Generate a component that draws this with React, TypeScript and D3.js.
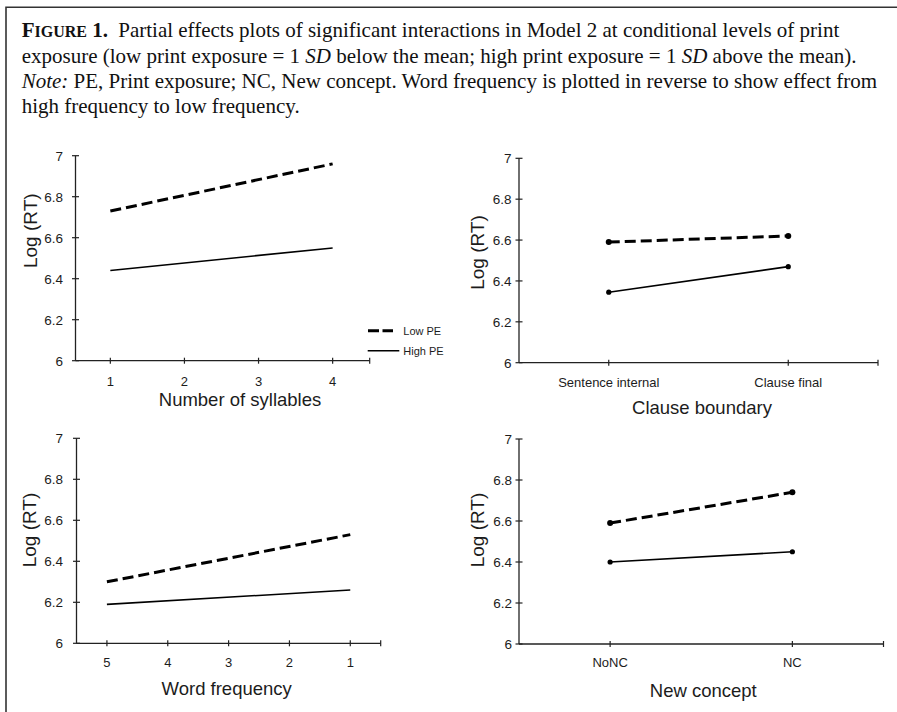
import * as d3 from "d3";
import { useEffect, useRef } from "react";

const W = 897;
const H = 712;

// values
const yTicks = [6, 6.2, 6.4, 6.6, 6.8, 7];

const syllableTicks = [1, 2, 3, 4];
const syllableX = [1, 4];
const syllableLow = [6.73, 6.96];
const syllableHigh = [6.44, 6.55];

const clauseCats = ["Sentence internal", "Clause final"];
const clauseLow = [6.59, 6.62];
const clauseHigh = [6.345, 6.47];

const freqTicks = [5, 4, 3, 2, 1];
const freqX = [5, 1];
const freqLow = [6.3, 6.53];
const freqHigh = [6.19, 6.26];

const conceptCats = ["NoNC", "NC"];
const conceptLow = [6.59, 6.74];
const conceptHigh = [6.4, 6.45];

const legendItems = ["Low PE", "High PE"];

const SANS = "Liberation Sans, Arial, Helvetica, sans-serif";
const SERIF = "Liberation Serif, 'Times New Roman', Times, serif";
const INK = "#1c1c1c";

type Panel = {
    cats?: string[];
    ticks?: number[];
    xs: (number | string)[];
    low: number[];
    high: number[];
    domain?: [number, number];
    x0: number;
    x1: number;
    yBottom: number;
    yTop: number;
    labelRight: number;
    tickBase: number;
    title: string;
    titleX: number;
    titleY: number;
    yTitleX: number;
    yTitleY: number;
    markers: boolean;
    legend?: boolean;
};

const panels: Panel[] = [
    {
        ticks: syllableTicks, xs: syllableX, low: syllableLow, high: syllableHigh,
        domain: [0.53, 4.5], x0: 75.5, x1: 369.7, yBottom: 360.7, yTop: 155.7,
        labelRight: 63, tickBase: 385.5, title: "Number of syllables", titleX: 240, titleY: 406,
        yTitleX: 36.5, yTitleY: 230.7, markers: false, legend: true,
    },
    {
        cats: clauseCats, xs: clauseCats, low: clauseLow, high: clauseHigh,
        x0: 519, x1: 878, yBottom: 362.7, yTop: 158.3,
        labelRight: 511.5, tickBase: 387, title: "Clause boundary", titleX: 702, titleY: 413.5,
        yTitleX: 484, yTitleY: 252.5, markers: true,
    },
    {
        ticks: freqTicks, xs: freqX, low: freqLow, high: freqHigh,
        domain: [5.5, 0.5], x0: 76.5, x1: 380.7, yBottom: 643.3, yTop: 438.3,
        labelRight: 63, tickBase: 667, title: "Word frequency", titleX: 226.7, titleY: 695,
        yTitleX: 36, yTitleY: 530, markers: false,
    },
    {
        cats: conceptCats, xs: conceptCats, low: conceptLow, high: conceptHigh,
        x0: 519, x1: 883.5, yBottom: 644, yTop: 439,
        labelRight: 512, tickBase: 667, title: "New concept", titleX: 703.3, titleY: 696.5,
        yTitleX: 483.5, yTitleY: 530, markers: true,
    },
];

function drawPanel(root: d3.Selection<SVGGElement, unknown, null, undefined>, p: Panel) {
    const g = root.append("g");

    const y = d3.scaleLinear().domain([6, 7]).range([p.yBottom, p.yTop]);
    let x: (v: any) => number;
    let tickVals: any[];
    if (p.cats) {
        const sp = d3.scalePoint<string>().domain(p.cats).range([p.x0, p.x1]).padding(0.5);
        x = v => sp(v) as number;
        tickVals = p.cats;
    } else {
        const sl = d3.scaleLinear().domain(p.domain!).range([p.x0, p.x1]);
        x = v => sl(v);
        tickVals = p.ticks!;
    }

    // axes
    g.append("line")
        .attr("x1", p.x0).attr("x2", p.x0)
        .attr("y1", y(6)).attr("y2", y(7))
        .attr("stroke", "#222").attr("stroke-width", 1.3);
    g.append("line")
        .attr("x1", p.x0).attr("x2", p.x1)
        .attr("y1", y(6)).attr("y2", y(6))
        .attr("stroke", "#222").attr("stroke-width", 1.3);

    g.selectAll(".yt")
        .data(yTicks)
        .enter()
        .append("line")
        .attr("x1", p.x0 - 3.5).attr("x2", p.x0 + 3.5)
        .attr("y1", d => y(d)).attr("y2", d => y(d))
        .attr("stroke", "#222").attr("stroke-width", 1.2);

    g.selectAll(".yl")
        .data(yTicks)
        .enter()
        .append("text")
        .attr("x", p.labelRight)
        .attr("y", d => y(d))
        .attr("dy", "0.36em")
        .attr("text-anchor", "end")
        .style("font-family", SANS)
        .style("font-size", "13.5px")
        .attr("fill", INK)
        .text(d => String(d));

    // x ticks: category ticks plus the end of the axis
    g.selectAll(".xt")
        .data([...tickVals.map(v => x(v)), p.x1])
        .enter()
        .append("line")
        .attr("x1", d => d).attr("x2", d => d)
        .attr("y1", y(6) - 3).attr("y2", y(6) + 3)
        .attr("stroke", "#222").attr("stroke-width", 1.2);

    g.selectAll(".xl")
        .data(tickVals)
        .enter()
        .append("text")
        .attr("x", d => x(d))
        .attr("y", p.tickBase)
        .attr("text-anchor", "middle")
        .style("font-family", SANS)
        .style("font-size", "13px")
        .attr("fill", INK)
        .text(d => String(d));

    // titles
    g.append("text")
        .attr("x", p.titleX)
        .attr("y", p.titleY)
        .attr("text-anchor", "middle")
        .style("font-family", SANS)
        .style("font-size", "18.5px")
        .attr("fill", INK)
        .text(p.title);

    g.append("text")
        .attr("transform", `translate(${p.yTitleX},${p.yTitleY}) rotate(-90)`)
        .attr("text-anchor", "middle")
        .style("font-family", SANS)
        .style("font-size", "19px")
        .attr("fill", INK)
        .text("Log (RT)");

    // series
    const series = [
        { vals: p.low, dash: "11,5", w: 3, r: 3 },
        { vals: p.high, dash: null, w: 1.6, r: 2.6 },
    ];
    const line = d3.line<number>()
        .x((_, i) => x(p.xs[i]))
        .y(d => y(d));

    series.forEach(s => {
        g.append("path")
            .attr("d", line(s.vals))
            .attr("fill", "none")
            .attr("stroke", "#000")
            .attr("stroke-width", s.w)
            .attr("stroke-dasharray", s.dash);
        if (p.markers) {
            g.selectAll(null)
                .data(s.vals)
                .enter()
                .append("circle")
                .attr("cx", (_, i) => x(p.xs[i]))
                .attr("cy", d => y(d))
                .attr("r", s.r)
                .attr("fill", "#000");
        }
    });

    if (p.legend) {
        const lg = g.append("g");
        const rows = [
            { cy: 330.7, x1: 368, x2: 393, dash: "11,3.5", w: 3 },
            { cy: 350.7, x1: 367.7, x2: 399.3, dash: null, w: 1.6 },
        ];
        rows.forEach((r, i) => {
            lg.append("line")
                .attr("x1", r.x1).attr("x2", r.x2)
                .attr("y1", r.cy).attr("y2", r.cy)
                .attr("stroke", "#000")
                .attr("stroke-width", r.w)
                .attr("stroke-dasharray", r.dash);
            lg.append("text")
                .attr("x", 403.3)
                .attr("y", r.cy)
                .attr("dy", "0.36em")
                .style("font-family", SANS)
                .style("font-size", "11px")
                .attr("fill", INK)
                .text(legendItems[i]);
        });
    }
}

export default function App() {
    const ref = useRef<SVGGElement>(null);

    useEffect(() => {
        const root = d3.select(ref.current as SVGGElement);
        root.selectAll("*").remove();
        panels.forEach(p => drawPanel(root, p));
    }, []);

    const cap = { fontFamily: SERIF, fontSize: 21, fill: "#111" };

    return (
        <div style={{ position: "absolute", left: 0, top: 0 }}>
            <svg width={W} height={H} style={{ display: "block", background: "#fff" }}>
                <rect width={W} height={H} fill="#fff" />
                {/* frame: only top and left edges are visible */}
                <path d={`M6,${H} V7.3 H${W}`} fill="none" stroke="#333" strokeWidth={1.6} />

                <text x={21.7} y={37.3} style={cap}>
                    <tspan fontWeight="bold">F</tspan>
                    <tspan fontWeight="bold" fontSize={16}>IGURE</tspan>
                    <tspan fontWeight="bold"> 1.</tspan>
                    <tspan dx={5}>{" Partial effects plots of significant interactions in Model 2 at conditional levels of print"}</tspan>
                </text>
                <text x={21.7} y={62.7} style={cap}>
                    <tspan>{"exposure (low print exposure = 1 "}</tspan>
                    <tspan fontStyle="italic">SD</tspan>
                    <tspan>{" below the mean; high print exposure = 1 "}</tspan>
                    <tspan fontStyle="italic">SD</tspan>
                    <tspan>{" above the mean)."}</tspan>
                </text>
                <text x={21.7} y={88} style={cap}>
                    <tspan fontStyle="italic">Note:</tspan>
                    <tspan>{" PE, Print exposure; NC, New concept. Word frequency is plotted in reverse to show effect from"}</tspan>
                </text>
                <text x={21.7} y={113.3} style={cap}>
                    high frequency to low frequency.
                </text>

                <g ref={ref} />
            </svg>
        </div>
    );
}
